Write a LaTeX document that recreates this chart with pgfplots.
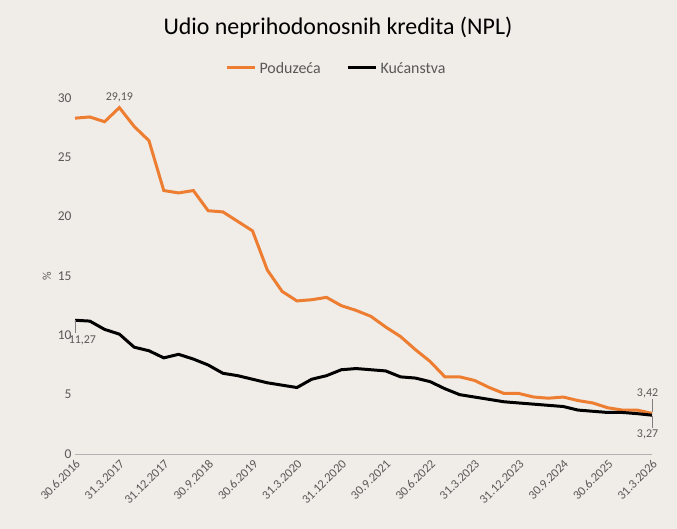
\documentclass[border=0pt]{standalone}
\usepackage{pgfplots}
\pgfplotsset{compat=1.18}
\usepackage{fontspec}
\setmainfont{Carlito}
\usetikzlibrary{backgrounds}
\definecolor{bg}{HTML}{F0ECE7}
\definecolor{org}{HTML}{ED7D31}
\definecolor{txt}{HTML}{595959}
\begin{document}
\begin{tikzpicture}[x=1bp,y=1bp]
\begin{axis}[at={(0,0)},anchor=origin,scale only axis,width=577bp,height=356bp,
 xmin=0,xmax=39,ymin=0,ymax=30,
 axis y line=left, axis x line=bottom, axis line style={draw=none},
 x axis line style={draw=gray!60,-},
 xtick={0,3,...,39},
 xticklabels={30.6.2016,31.3.2017,31.12.2017,30.9.2018,30.6.2019,31.3.2020,31.12.2020,30.9.2021,30.6.2022,31.3.2023,31.12.2023,30.9.2024,30.6.2025,31.3.2026},
 xticklabel style={rotate=45,anchor=north east,font=\fontsize{12.5}{14}\selectfont,text=txt},
 ytick={0,5,...,30}, yticklabel style={font=\fontsize{13.5}{15}\selectfont,text=txt},
 /pgf/number format/assume math mode=true,
 major tick length=0pt,
 ylabel={\%}, ylabel style={font=\fontsize{12}{14}\selectfont,text=txt},
 clip=false]
\addplot[org,line width=3pt] coordinates {(0,28.3)(1,28.4)(2,28.0)(3,29.19)(4,27.6)(5,26.4)(6,22.2)(7,22.0)(8,22.2)(9,20.5)(10,20.4)(11,19.6)(12,18.8)(13,15.5)(14,13.7)(15,12.9)(16,13.0)(17,13.2)(18,12.5)(19,12.1)(20,11.6)(21,10.7)(22,9.9)(23,8.8)(24,7.8)(25,6.5)(26,6.5)(27,6.2)(28,5.6)(29,5.1)(30,5.1)(31,4.8)(32,4.7)(33,4.8)(34,4.5)(35,4.3)(36,3.9)(37,3.7)(38,3.7)(39,3.42)};
\addplot[black,line width=3pt] coordinates {(0,11.27)(1,11.2)(2,10.5)(3,10.1)(4,9.0)(5,8.7)(6,8.1)(7,8.4)(8,8.0)(9,7.5)(10,6.8)(11,6.6)(12,6.3)(13,6.0)(14,5.8)(15,5.6)(16,6.3)(17,6.6)(18,7.1)(19,7.2)(20,7.1)(21,7.0)(22,6.5)(23,6.4)(24,6.1)(25,5.5)(26,5.0)(27,4.8)(28,4.6)(29,4.4)(30,4.3)(31,4.2)(32,4.1)(33,4.0)(34,3.7)(35,3.6)(36,3.5)(37,3.5)(38,3.4)(39,3.27)};
\node[font=\fontsize{12}{14}\selectfont,text=txt,above] at (axis cs:3,29.4) {29,19};
\draw[gray] (axis cs:0,11.27) -- (axis cs:0,10.2);
\node[font=\fontsize{12}{14}\selectfont,text=txt,below] at (axis cs:0.5,10.3) {11,27};
\draw[gray] (axis cs:39,3.5) -- (axis cs:39,4.6);
\node[font=\fontsize{12}{14}\selectfont,text=txt,above] at (axis cs:38.7,4.4) {3,42};
\draw[gray] (axis cs:39,3.2) -- (axis cs:39,2.2);
\node[font=\fontsize{12}{14}\selectfont,text=txt,below] at (axis cs:38.7,2.3) {3,27};
\end{axis}
\node[font=\fontsize{24}{28}\selectfont] at (263,426) {Udio neprihodonosnih kredita (NPL)};
\draw[org,line width=3pt] (152,386)--(180,386);
\node[anchor=west,font=\fontsize{16}{18}\selectfont,text=txt] at (181,386) {Poduzeća};
\draw[black,line width=3pt] (273,386)--(301,386);
\node[anchor=west,font=\fontsize{16}{18}\selectfont,text=txt] at (302,386) {Kućanstva};
\begin{scope}[on background layer]
\fill[bg] (-75,-75) rectangle (602,454);
\end{scope}
\end{tikzpicture}
\end{document}
